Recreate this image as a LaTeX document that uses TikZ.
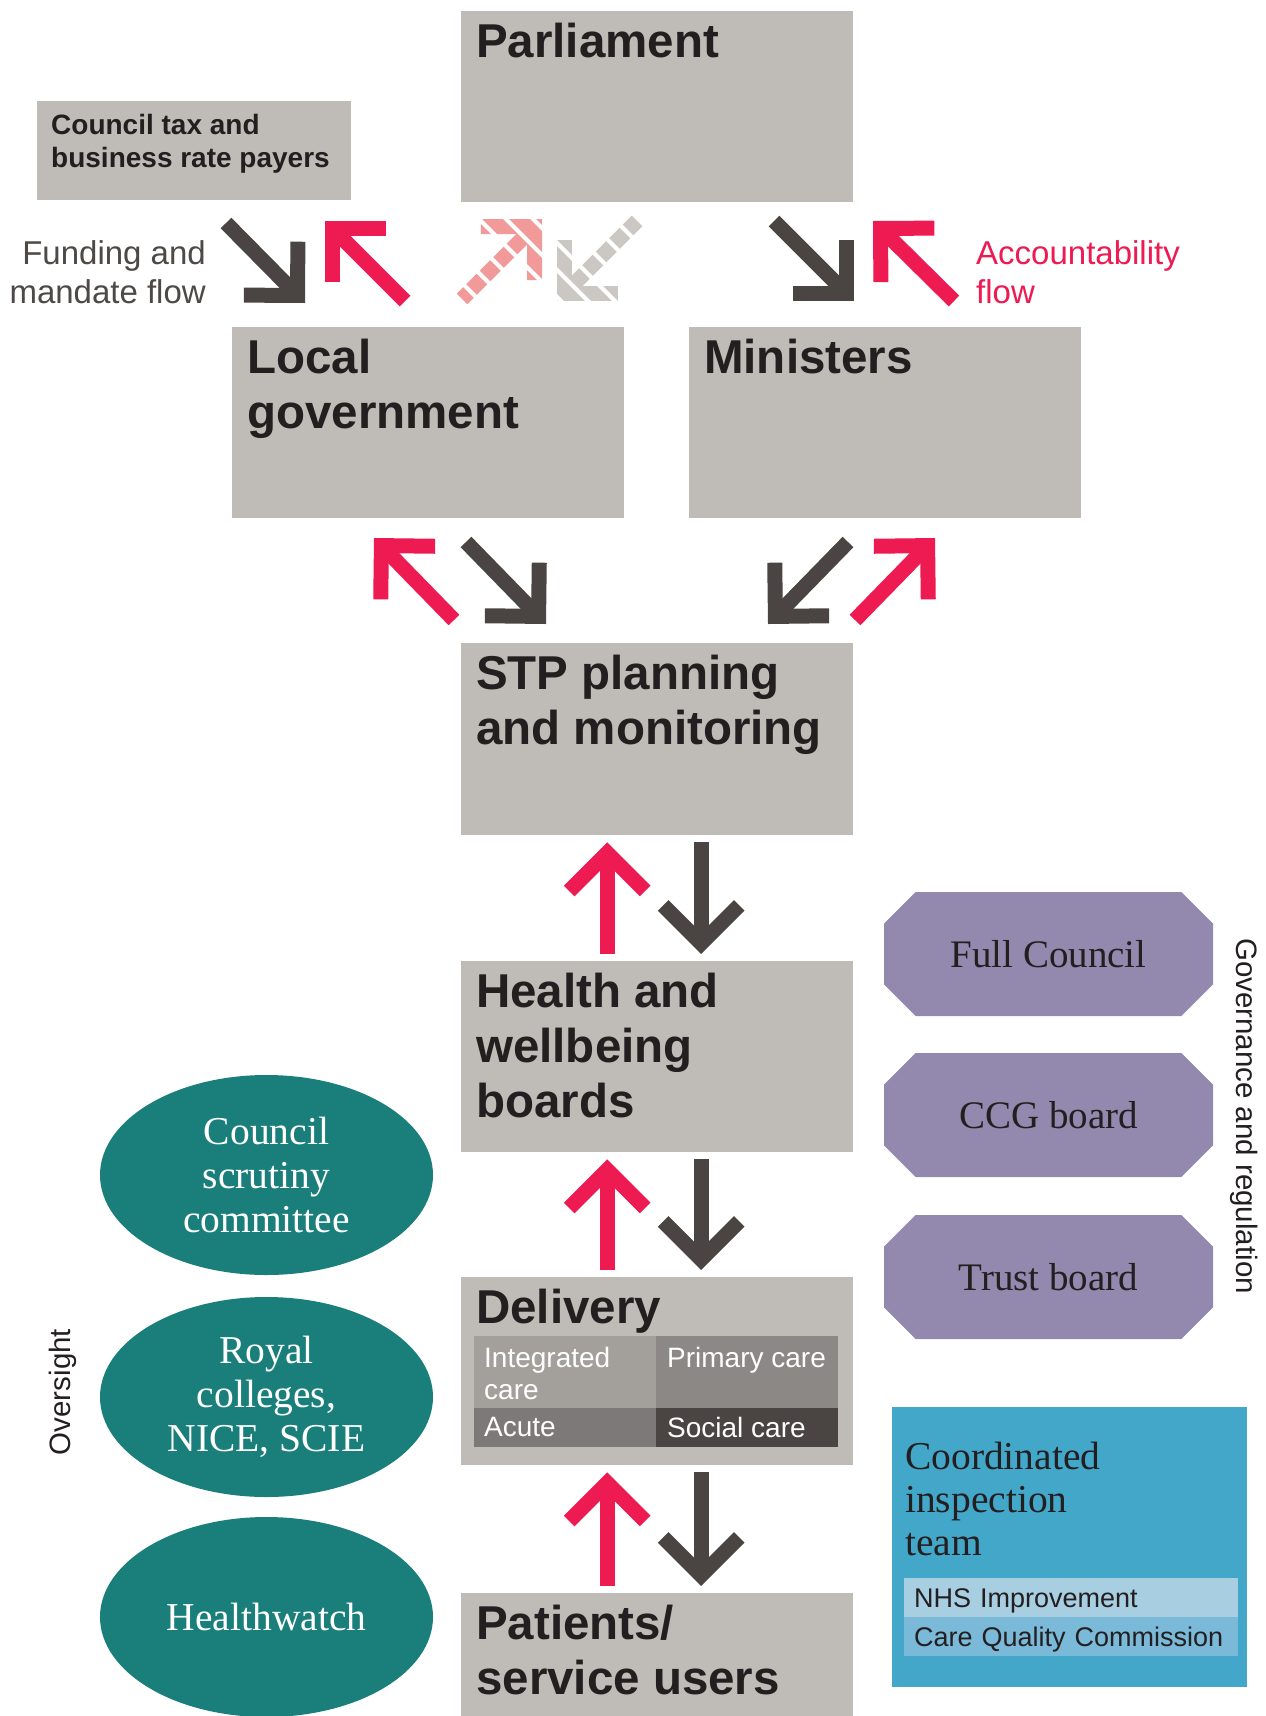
\documentclass[tikz,border=0pt]{standalone}
\usepackage{fontspec}
\setmainfont{Liberation Serif}
\setsansfont{Liberation Sans}
\usetikzlibrary{positioning,calc,shapes.misc,shapes.geometric,arrows.meta}

\definecolor{panelgray}{HTML}{BFBBB6}
\definecolor{ink}{HTML}{231F20}
\definecolor{flowdark}{HTML}{4A4542}
\definecolor{accred}{HTML}{EE1A52}
\definecolor{pinkhatch}{HTML}{F29A9A}
\definecolor{grayhatch}{HTML}{CBC8C4}
\definecolor{labelgray}{HTML}{4D4946}
\definecolor{boardpurple}{HTML}{9388AD}
\definecolor{ovalteal}{HTML}{1A7F7A}
\definecolor{inspblue}{HTML}{43A7CA}
\definecolor{nhsrow}{HTML}{A8CEE1}
\definecolor{cqcrow}{HTML}{7AB9D7}
\definecolor{cellA}{HTML}{A3A09C}
\definecolor{cellB}{HTML}{8C8886}
\definecolor{cellC}{HTML}{7D7978}
\definecolor{cellD}{HTML}{4A4542}

\begin{document}
\begin{tikzpicture}[
    x=1pt, y=-1pt,
    panel/.style={rectangle, fill=panelgray, anchor=north west, inner sep=0pt, minimum width=392pt, minimum height=191pt},
    paneltitle/.style={anchor=north west, inner sep=0pt, align=left, text=ink, font=\sffamily\bfseries\fontsize{47.5}{55}\selectfont},
    fundflow/.style={draw=flowdark, line width=15pt, -{Straight Barb[length=38pt, width=76pt]}},
    accflow/.style={fundflow, draw=accred},
    pinkflow/.style={fundflow, draw=pinkhatch},
    grayflow/.style={fundflow, draw=grayhatch},
    flowlabel/.style={inner sep=0pt, font=\sffamily\fontsize{33}{39}\selectfont},
    sidelabel/.style={inner sep=0pt, text=ink, font=\sffamily\fontsize{29.5}{32}\selectfont},
    boardbox/.style={chamfered rectangle, chamfered rectangle xsep=18pt, chamfered rectangle ysep=18pt, fill=boardpurple, minimum width=329pt, minimum height=124pt, inner sep=0pt, text=ink, font=\fontsize{39}{44}\selectfont},
    ovalnode/.style={ellipse, fill=ovalteal, minimum width=333pt, minimum height=200pt, inner sep=0pt, align=center, text=white, font=\fontsize{39.5}{44}\selectfont},
    delcell/.style={rectangle, anchor=north west, inner sep=0pt, minimum width=182pt},
    celltext/.style={anchor=north west, inner sep=0pt, align=left, text=white, font=\sffamily\fontsize{28}{32}\selectfont},
    insprow/.style={rectangle, anchor=north west, minimum width=334pt, minimum height=39pt, text width=314pt, inner xsep=10pt, inner ysep=0pt, text height=19pt, text depth=0pt, align=left, text=ink, font=\sffamily\fontsize{27}{30}\selectfont}
]
    \path[use as bounding box, fill=white] (0,0) rectangle (1266,1716);

    % top row
    \node[panel] (parl) at (461,11) {};
    \node[paneltitle] (parlt) at ([shift={(15,12)}]parl.north west) {Parliament};
    \node[panel, minimum width=314pt, minimum height=99pt] (tax) at (37,101) {};
    \node[paneltitle, font=\sffamily\bfseries\fontsize{28}{33}\selectfont] (taxt) at ([shift={(14,13)}]tax.north west) {Council tax and\\business rate payers};

    % second row
    \node[panel] (lg) at (232,327) {};
    \node[paneltitle] (lgt) at ([shift={(15,12)}]lg.north west) {Local\\government};
    \node[panel] (mins) at (689,327) {};
    \node[paneltitle] (minst) at ([shift={(15,12)}]mins.north west) {Ministers};

    % the column down the middle
    \node[panel, minimum height=192pt] (stp) at (461,643) {};
    \node[paneltitle] (stpt) at ([shift={(15,12)}]stp.north west) {STP planning\\and monitoring};
    \node[panel] (hwb) at (461,961) {};
    \node[paneltitle] (hwbt) at ([shift={(15,12)}]hwb.north west) {Health and\\wellbeing\\boards};
    \node[panel, minimum height=188pt] (del) at (461,1277) {};
    \node[paneltitle] (delt) at ([shift={(15,12)}]del.north west) {Delivery};
    \node[panel, minimum height=140pt] (pat) at (461,1593) {};
    \node[paneltitle] (patt) at ([shift={(15,12)}]pat.north west) {Patients/\\service users};

    % delivery grid
    \node[delcell, fill=cellA, minimum height=72pt] (intc) at (474,1336) {};
    \node[delcell, fill=cellB, minimum height=72pt] (prim) at (656,1336) {};
    \node[delcell, fill=cellC, minimum height=39pt] (acut) at (474,1408) {};
    \node[delcell, fill=cellD, minimum height=39pt] (soc) at (656,1408) {};
    \node[celltext] (intct) at ([shift={(10,11)}]intc.north west) {Integrated\\care};
    \node[celltext] (primt) at ([shift={(11,11)}]prim.north west) {Primary care};
    \node[celltext] (acutt) at ([shift={(10,9)}]acut.north west) {Acute};
    \node[celltext] (soct) at ([shift={(11,9)}]soc.north west) {Social care};

    % flow labels
    \node[flowlabel, anchor=north east, align=right, text=labelgray] (fundl) at (206,240) {Funding and\\mandate flow};
    \node[flowlabel, anchor=north west, align=left, text=accred] (accl) at (976,240) {Accountability\\flow};

    % governance boards
    \foreach \n/\y/\t in {fc/954/Full Council, ccg/1115/CCG board, tb/1277/Trust board}
        \node[boardbox] (\n) at (1048.5,\y) {\t};
    \node[sidelabel, rotate=-90] (govl) at (1244,1116) {Governance and regulation};

    % oversight bodies
    \foreach \n/\y/\t in {csc/1175/{Council\\scrutiny\\committee}, roy/1397/{Royal\\colleges,\\NICE, SCIE}, hw/1617/Healthwatch}
        \node[ovalnode] (\n) at (266.5,\y) {\t};
    \node[sidelabel, rotate=90] (overl) at (63,1392) {Oversight};

    % inspection team
    \node[rectangle, fill=inspblue, anchor=north west, minimum width=355pt, minimum height=280pt, inner sep=0pt] (insp) at (892,1407) {};
    \node[anchor=north west, inner sep=0pt, align=left, text=ink, font=\fontsize{39.5}{43}\selectfont] (inspt) at ([shift={(13,35)}]insp.north west) {Coordinated\\inspection\\team};
    \node[insprow, fill=nhsrow] (nhs) at (904,1578) {NHS Improvement};
    \node[insprow, fill=cqcrow] (cqc) at (904,1617) {Care Quality Commission};

    % diagonal flow glyphs between the top rows
    \foreach \n/\ax/\ay/\bx/\by/\st in {1/226/223/305/303/fundflow, 2/405/301/325/221/accflow,
        3/462/299/542/219/pinkflow, 4/637/221/557/301/grayflow,
        5/774/221/854/301/fundflow, 6/954/301/873/221/accflow,
        7/454/620/374/538/accflow, 8/466/542/546/624/fundflow,
        9/848/542/768/624/fundflow, 10/855/620/935/538/accflow} {
        \coordinate (g\n t) at (\ax,\ay);
        \coordinate (g\n h) at (\bx,\by);
        \draw[\st] (g\n t) -- (g\n h);
    }
    % hatching on the faded pair
    \begin{scope}
        \clip (450,205) rectangle (650,312);
        \foreach \s in {0,...,12}
            \draw[white, line width=4pt] (330+27*\s,205) -- ++(107,107);
    \end{scope}

    % up and down the middle column
    \foreach \up/\lo in {stp/hwb, hwb/del, del/pat} {
        \draw[accflow, shorten <=7pt, shorten >=7pt] ([xshift=-50pt]\lo.north) -- ([xshift=-50pt]\up.south);
        \draw[fundflow, shorten <=7pt, shorten >=7pt] ([xshift=44pt]\up.south) -- ([xshift=44pt]\lo.north);
    }

\end{tikzpicture}
\end{document}
